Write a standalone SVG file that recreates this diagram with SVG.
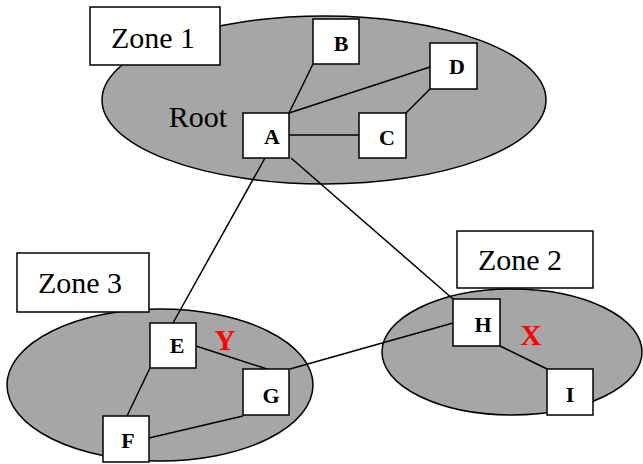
<svg xmlns="http://www.w3.org/2000/svg" width="643" height="464" viewBox="0 0 643 464">
<style>
.zone{fill:#a6a6a6;stroke:#000;stroke-width:1.5}
.box{fill:#fff;stroke:#000;stroke-width:1.5}
text{font-family:'Liberation Serif','Times New Roman',serif;text-anchor:middle}
.lbl{font-size:30px;fill:#000}
.nl{font-size:22px;font-weight:bold;fill:#000}
.red{font-size:29px;font-weight:bold;fill:#ff0000}
#connectors line{stroke:#000;stroke-width:1.5}
</style>
<rect width="643" height="464" fill="#fff"/>
<g id="zone1">
<ellipse class="zone" cx="324" cy="100" rx="222" ry="84"/>
<rect class="box" x="90" y="7" width="130" height="58"/>
<text class="lbl" x="153" y="48">Zone 1</text>
<text class="lbl" x="198" y="127">Root</text>
</g>
<g id="zone3">
<ellipse class="zone" cx="160" cy="385" rx="153" ry="76"/>
<rect class="box" x="17" y="253" width="132" height="59"/>
<text class="lbl" x="80" y="293">Zone 3</text>
</g>
<g id="zone2">
<ellipse class="zone" cx="512" cy="352" rx="130" ry="63"/>
<rect class="box" x="457" y="231" width="136" height="57"/>
<text class="lbl" x="520" y="270">Zone 2</text>
</g>
<g id="connectors">
<line x1="313" y1="64" x2="289" y2="113"/>
<line x1="430" y1="67" x2="289" y2="113"/>
<line x1="430" y1="89" x2="406" y2="113"/>
<line x1="289" y1="135" x2="359" y2="135"/>
<line x1="265" y1="158" x2="173" y2="323"/>
<line x1="291" y1="158" x2="453" y2="299"/>
<line x1="196" y1="346" x2="267" y2="369"/>
<line x1="290" y1="369" x2="453" y2="323"/>
<line x1="127" y1="416" x2="150" y2="368"/>
<line x1="149" y1="438" x2="243" y2="416"/>
<line x1="500" y1="346" x2="547" y2="369"/>
</g>
<g id="A"><rect class="box" x="243" y="113" width="46" height="45"/><text class="nl" x="272" y="144">A</text></g>
<g id="B"><rect class="box" x="313" y="19" width="46" height="45"/><text class="nl" x="341" y="51">B</text></g>
<g id="C"><rect class="box" x="359" y="113" width="47" height="45"/><text class="nl" x="387" y="145">C</text></g>
<g id="D"><rect class="box" x="430" y="43" width="47" height="46"/><text class="nl" x="457" y="74">D</text></g>
<g id="E"><rect class="box" x="150" y="323" width="46" height="45"/><text class="nl" x="177" y="353">E</text></g>
<g id="F"><rect class="box" x="103" y="416" width="46" height="46"/><text class="nl" x="128" y="448">F</text></g>
<g id="G"><rect class="box" x="243" y="369" width="46" height="46"/><text class="nl" x="271" y="403">G</text></g>
<g id="H"><rect class="box" x="453" y="299" width="47" height="47"/><text class="nl" x="483" y="332">H</text></g>
<g id="I"><rect class="box" x="547" y="369" width="46" height="46"/><text class="nl" x="570" y="402">I</text></g>
<text class="red" x="225" y="350">Y</text>
<text class="red" x="531" y="345">X</text>
</svg>
